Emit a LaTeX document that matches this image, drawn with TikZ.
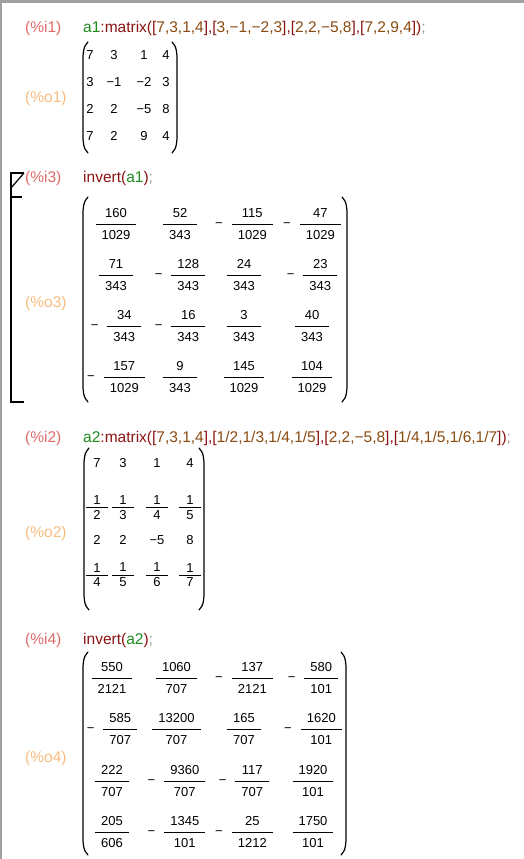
\documentclass[tikz,border=0pt]{standalone}
\usepackage{fontspec}
\setmainfont{Liberation Sans}
\usepackage{xcolor}
\usetikzlibrary{positioning}

\definecolor{inlab}{HTML}{E06A6A}
\definecolor{outlab}{HTML}{F7BC80}
\definecolor{varc}{HTML}{1F8A1F}
\definecolor{func}{HTML}{8A1212}
\definecolor{numc}{HTML}{8A4A10}
\definecolor{semic}{HTML}{9A9A9A}
\definecolor{framec}{HTML}{A0A0A0}

\setlength{\arrayrulewidth}{0.8pt}
\renewcommand{\arraystretch}{0}
\newcommand{\mfr}[2]{\begin{tabular}{@{\hspace{6pt}}c@{\hspace{6pt}}}\rule[-6.3pt]{0pt}{0pt}#1\\\hline\rule{0pt}{14.6pt}#2\end{tabular}}
\newcommand{\mfrs}[2]{\begin{tabular}{@{\hspace{7pt}}c@{\hspace{7pt}}}\rule[-2.9pt]{0pt}{0pt}#1\\\hline\rule{0pt}{11.2pt}#2\end{tabular}}
\newcommand{\mneg}{−\hspace{9pt}}
\newcommand{\tvar}[1]{\textcolor{varc}{#1}}
\newcommand{\tfun}[1]{\textcolor{func}{#1}}
\newcommand{\tnum}[1]{\textcolor{numc}{#1}}
\newcommand{\tsemi}[1]{\textcolor{semic}{#1}}

\tikzset{
    cell/.style={inner sep=0pt, font=\fontsize{13}{15}\selectfont},
    lab/.style={inner sep=0pt, anchor=base west, font=\fontsize{15.5}{18}\selectfont},
    inlabel/.style={lab, text=inlab},
    outlabel/.style={lab, text=outlab},
    paren/.style={line width=1.2pt, line cap=round},
    cellbr/.style={line width=1.2pt}
}

\begin{document}
\begin{tikzpicture}[x=1pt, y=-1pt]
        \useasboundingbox (0,0) rectangle (524,859);
        \fill[framec] (0,0) rectangle (524,3);
        \fill[framec] (0,0) rectangle (2,859);

        \node[inlabel] (i1) at (25,32.5) {(\%i1)};
        \node[lab] (in1) at (83,32.5) {\tvar{a1}\tfun{:matrix([}\tnum{7,3,1,4}\tfun{],[}\tnum{3,−1,−2,3}\tfun{],[}\tnum{2,2,−5,8}\tfun{],[}\tnum{7,2,9,4}\tfun{])}\tsemi{;}};
        \node[outlabel] (o1) at (25,102.5) {(\%o1)};
        \foreach \y/\ca/\cb/\cc/\cd [count=\r] in {55/7/3/1/4, 82/3/−1/−2/3, 109/2/2/−5/8, 136/7/2/9/4} {
            \node[cell] (m1-\r-1) at (90,\y) {\ca};
            \node[cell] (m1-\r-2) at (114,\y) {\cb};
            \node[cell] (m1-\r-3) at (144,\y) {\cc};
            \node[cell] (m1-\r-4) at (166,\y) {\cd};
        }

        \draw[cellbr] (24,173) -- (11,173) -- (11,402) -- (24,402);
        \draw[cellbr] (11,188) -- (24,173);
        \draw[cellbr] (11,197) -- (22,197);
        \node[inlabel] (i3) at (25,182.5) {(\%i3)};
        \node[lab] (in3) at (83,182.5) {\tfun{invert(}\tvar{a1}\tfun{)}\tsemi{;}};
        \node[outlabel] (o3) at (25,307.5) {(\%o3)};
        \foreach \y/\ca/\cb/\cc/\cd [count=\r] in {
            224/{\mfr{160}{1029}}/{\mfr{52}{343}}/{\mneg\mfr{115}{1029}}/{\mneg\mfr{47}{1029}},
            275/{\mfr{71}{343}}/{\mneg\mfr{128}{343}}/{\mfr{24}{343}}/{\mneg\mfr{23}{343}},
            326/{\mneg\mfr{34}{343}}/{\mneg\mfr{16}{343}}/{\mfr{3}{343}}/{\mfr{40}{343}},
            377/{\mneg\mfr{157}{1029}}/{\mfr{9}{343}}/{\mfr{145}{1029}}/{\mfr{104}{1029}}} {
            \node[cell] (m3-\r-1) at (116,\y) {\ca};
            \node[cell] (m3-\r-2) at (180,\y) {\cb};
            \node[cell] (m3-\r-3) at (244,\y) {\cc};
            \node[cell] (m3-\r-4) at (312,\y) {\cd};
        }

        \node[inlabel] (i2) at (25,442.5) {(\%i2)};
        \node[lab] (in2) at (83,442.5) {\tvar{a2}\tfun{:matrix([}\tnum{7,3,1,4}\tfun{],[}\tnum{1/2,1/3,1/4,1/5}\tfun{],[}\tnum{2,2,−5,8}\tfun{],[}\tnum{1/4,1/5,1/6,1/7}\tfun{])}\tsemi{;}};
        \node[outlabel] (o2) at (25,537.5) {(\%o2)};
        \foreach \y/\ca/\cb/\cc/\cd [count=\r] in {
            463/7/3/1/4,
            507.5/{\mfrs{1}{2}}/{\mfrs{1}{3}}/{\mfrs{1}{4}}/{\mfrs{1}{5}},
            540/2/2/−5/8,
            575/{\mfrs{1}{4}}/{\mfrs{1}{5}}/{\mfrs{1}{6}}/{\mfrs{1}{7}}} {
            \node[cell] (m2-\r-1) at (97,\y) {\ca};
            \node[cell] (m2-\r-2) at (123,\y) {\cb};
            \node[cell] (m2-\r-3) at (157,\y) {\cc};
            \node[cell] (m2-\r-4) at (190,\y) {\cd};
        }

        \node[inlabel] (i4) at (25,644.5) {(\%i4)};
        \node[lab] (in4) at (83,644.5) {\tfun{invert(}\tvar{a2}\tfun{)}\tsemi{;}};
        \node[outlabel] (o4) at (25,762.5) {(\%o4)};
        \foreach \y/\ca/\cb/\cc/\cd [count=\r] in {
            678/{\mfr{550}{2121}}/{\mfr{1060}{707}}/{\mneg\mfr{137}{2121}}/{\mneg\mfr{580}{101}},
            729/{\mneg\mfr{585}{707}}/{\mfr{13200}{707}}/{\mfr{165}{707}}/{\mneg\mfr{1620}{101}},
            781/{\mfr{222}{707}}/{\mneg\mfr{9360}{707}}/{\mneg\mfr{117}{707}}/{\mfr{1920}{101}},
            832/{\mfr{205}{606}}/{\mneg\mfr{1345}{101}}/{\mneg\mfr{25}{1212}}/{\mfr{1750}{101}}} {
            \node[cell] (m4-\r-1) at (112,\y) {\ca};
            \node[cell] (m4-\r-2) at (176.5,\y) {\cb};
            \node[cell] (m4-\r-3) at (244,\y) {\cc};
            \node[cell] (m4-\r-4) at (313,\y) {\cd};
        }

        \foreach \xl/\xr/\yt/\yb in {83/177/42/153, 83/347/197/402, 84/204/448/610, 83/346/652/855} {
            \draw[paren] (\xl+5,\yt) .. controls (\xl+1,\yt+5) .. (\xl,\yt+14) -- (\xl,\yb-14) .. controls (\xl+1,\yb-5) .. (\xl+5,\yb);
            \draw[paren] (\xr-5,\yt) .. controls (\xr-1,\yt+5) .. (\xr,\yt+14) -- (\xr,\yb-14) .. controls (\xr-1,\yb-5) .. (\xr-5,\yb);
        }
\end{tikzpicture}
\end{document}
